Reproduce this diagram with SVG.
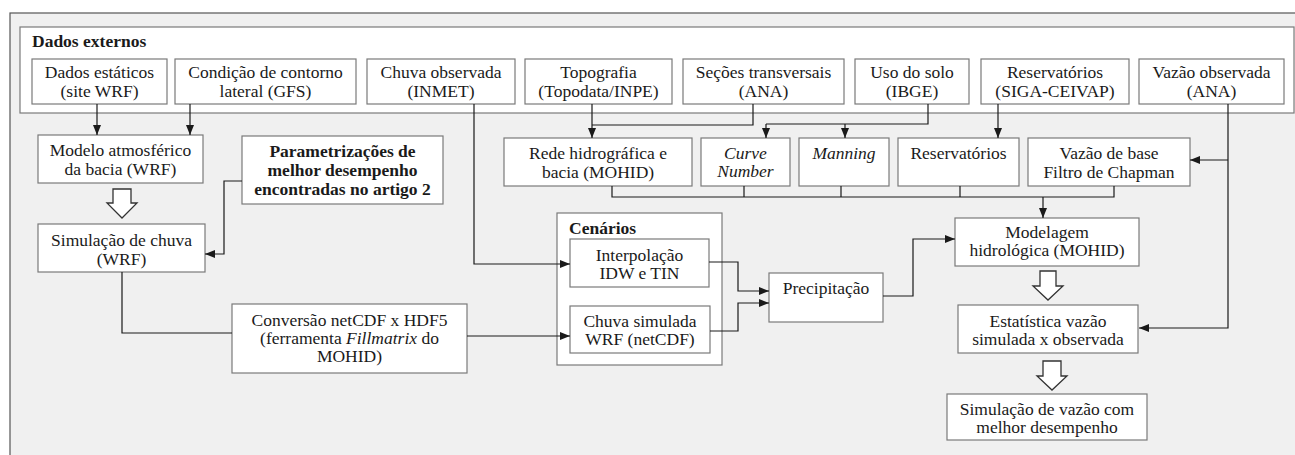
<svg xmlns="http://www.w3.org/2000/svg" width="1295" height="455" viewBox="0 0 1295 455">
<defs>
<style>
.box{fill:#ffffff;stroke:#7a7a7a;stroke-width:1.2}
.t{font-family:"Liberation Serif","Times New Roman",serif;font-size:17.5px;fill:#1a1a1a;text-anchor:middle}
.b{font-weight:bold}
.i{font-style:italic}
.l{text-anchor:start}
.c{fill:none;stroke:#1a1a1a;stroke-width:1.2}
.ca{fill:none;stroke:#1a1a1a;stroke-width:1.2;marker-end:url(#ah)}
.ha{fill:#ffffff;stroke:#333333;stroke-width:1.3}
</style>
<marker id="ah" markerUnits="userSpaceOnUse" markerWidth="10" markerHeight="8" refX="10" refY="4" orient="auto">
<path d="M0,0 L10,4 L0,8 z" fill="#1a1a1a"/>
</marker>
</defs>
<rect x="0" y="0" width="1295" height="455" fill="#ffffff"/>
<rect x="10" y="13" width="1300" height="460" fill="#f0f0f0" stroke="#555555" stroke-width="1.2"/>

<g id="dados-externos">
<rect class="box" x="20" y="27" width="1274" height="86"/>
<text class="t b l" x="32" y="47">Dados externos</text>
</g>

<g id="dados-estaticos">
<rect class="box" x="32" y="59" width="135" height="45"/>
<text class="t" x="99.5" y="78">Dados estáticos</text>
<text class="t" x="99.5" y="97">(site WRF)</text>
</g>
<g id="condicao-contorno">
<rect class="box" x="175" y="59" width="181" height="45"/>
<text class="t" x="265.5" y="78">Condição de contorno</text>
<text class="t" x="265.5" y="97">lateral (GFS)</text>
</g>
<g id="chuva-observada">
<rect class="box" x="367" y="59" width="148" height="45"/>
<text class="t" x="441" y="78">Chuva observada</text>
<text class="t" x="441" y="97">(INMET)</text>
</g>
<g id="topografia">
<rect class="box" x="525" y="59" width="147" height="45"/>
<text class="t" x="598.5" y="78">Topografia</text>
<text class="t" x="598.5" y="97">(Topodata/INPE)</text>
</g>
<g id="secoes">
<rect class="box" x="683" y="59" width="161" height="45"/>
<text class="t" x="763.5" y="78">Seções transversais</text>
<text class="t" x="763.5" y="97">(ANA)</text>
</g>
<g id="uso-solo">
<rect class="box" x="855" y="59" width="114" height="45"/>
<text class="t" x="912" y="78">Uso do solo</text>
<text class="t" x="912" y="97">(IBGE)</text>
</g>
<g id="reservatorios-siga">
<rect class="box" x="981" y="59" width="148" height="45"/>
<text class="t" x="1055" y="78">Reservatórios</text>
<text class="t" x="1055" y="97">(SIGA-CEIVAP)</text>
</g>
<g id="vazao-observada">
<rect class="box" x="1139" y="59" width="145" height="45"/>
<text class="t" x="1211.5" y="78">Vazão observada</text>
<text class="t" x="1211.5" y="97">(ANA)</text>
</g>

<g id="modelo-atmosferico">
<rect class="box" x="38" y="135" width="165" height="48"/>
<text class="t" x="120.5" y="156">Modelo atmosférico</text>
<text class="t" x="120.5" y="175">da bacia (WRF)</text>
</g>
<g id="parametrizacoes">
<rect class="box" x="242" y="136" width="201" height="68"/>
<text class="t b" x="342.5" y="157">Parametrizações de</text>
<text class="t b" x="342.5" y="176">melhor desempenho</text>
<text class="t b" x="342.5" y="195">encontradas no artigo 2</text>
</g>
<g id="simulacao-chuva">
<rect class="box" x="38" y="224" width="167" height="48"/>
<text class="t" x="121.5" y="246">Simulação de chuva</text>
<text class="t" x="121.5" y="265">(WRF)</text>
</g>
<g id="conversao">
<rect class="box" x="232" y="304" width="235" height="69"/>
<text class="t" x="349.5" y="326">Conversão netCDF x HDF5</text>
<text class="t" x="349.5" y="344">(ferramenta <tspan class="i">Fillmatrix</tspan> do</text>
<text class="t" x="349.5" y="362">MOHID)</text>
</g>

<g id="rede-hidrografica">
<rect class="box" x="504" y="138" width="188" height="48"/>
<text class="t" x="598" y="159">Rede hidrográfica e</text>
<text class="t" x="598" y="178">bacia (MOHID)</text>
</g>
<g id="curve-number">
<rect class="box" x="701" y="138" width="89" height="48"/>
<text class="t i" x="745.5" y="159">Curve</text>
<text class="t i" x="745.5" y="177">Number</text>
</g>
<g id="manning">
<rect class="box" x="799" y="138" width="90" height="48"/>
<text class="t i" x="844" y="159">Manning</text>
</g>
<g id="reservatorios">
<rect class="box" x="898" y="138" width="121" height="48"/>
<text class="t" x="958.5" y="159">Reservatórios</text>
</g>
<g id="vazao-base">
<rect class="box" x="1028" y="138" width="162" height="48"/>
<text class="t" x="1109" y="159">Vazão de base</text>
<text class="t" x="1109" y="178">Filtro de Chapman</text>
</g>

<g id="cenarios">
<rect class="box" x="557" y="213" width="165" height="152"/>
<text class="t b l" x="569" y="234">Cenários</text>
</g>
<g id="interpolacao">
<rect class="box" x="570" y="239" width="139" height="48"/>
<text class="t" x="639.5" y="261">Interpolação</text>
<text class="t" x="639.5" y="279">IDW e TIN</text>
</g>
<g id="chuva-simulada">
<rect class="box" x="570" y="306" width="140" height="47"/>
<text class="t" x="640" y="327">Chuva simulada</text>
<text class="t" x="640" y="345">WRF (netCDF)</text>
</g>
<g id="precipitacao">
<rect class="box" x="769" y="273" width="114" height="49"/>
<text class="t" x="826" y="294">Precipitação</text>
</g>
<g id="modelagem">
<rect class="box" x="955" y="218" width="184" height="48"/>
<text class="t" x="1047" y="238">Modelagem</text>
<text class="t" x="1047" y="256">hidrológica (MOHID)</text>
</g>
<g id="estatistica">
<rect class="box" x="958" y="305" width="180" height="48"/>
<text class="t" x="1048" y="327">Estatística vazão</text>
<text class="t" x="1048" y="345">simulada x observada</text>
</g>
<g id="simulacao-vazao">
<rect class="box" x="947" y="394" width="200" height="46"/>
<text class="t" x="1047" y="415">Simulação de vazão com</text>
<text class="t" x="1047" y="433">melhor desempenho</text>
</g>

<g id="connectors">
<path class="ca" d="M97,104 V135"/>
<path class="ca" d="M190,104 V135"/>
<path class="ca" d="M242,181 H224 V254 H205"/>
<path class="c" d="M122,272 V333 H232"/>
<path class="ca" d="M467,336 H570"/>
<path class="ca" d="M474,104 V264 H570"/>
<path class="ca" d="M709,262 H738 V291 H769"/>
<path class="ca" d="M710,331 H738 V303 H769"/>
<path class="ca" d="M883,296 H913 V239 H955"/>
<path class="ca" d="M592,104 V138"/>
<path class="c" d="M753,104 V125 H592"/>
<path class="c" d="M928,104 V124 H766"/>
<path class="ca" d="M766,124 V138"/>
<path class="ca" d="M845,124 V138"/>
<path class="ca" d="M998,104 V138"/>
<path class="ca" d="M1228,104 V328 H1139"/>
<path class="ca" d="M1228,160 H1190"/>
<path class="c" d="M612,186 V197 H1114 V186 M744,186 V197 M841,186 V197 M960,186 V197"/>
<path class="ca" d="M1043,197 V218"/>
<path class="ha" d="M113,189 H131 V203 H137 L122,218 L107,203 H113 Z"/>
<path class="ha" d="M1040,271 H1056 V286 H1063 L1048,300 L1033,286 H1040 Z"/>
<path class="ha" d="M1043,361 H1061 V376 H1067 L1052,390 L1037,376 H1043 Z"/>
</g>
</svg>
